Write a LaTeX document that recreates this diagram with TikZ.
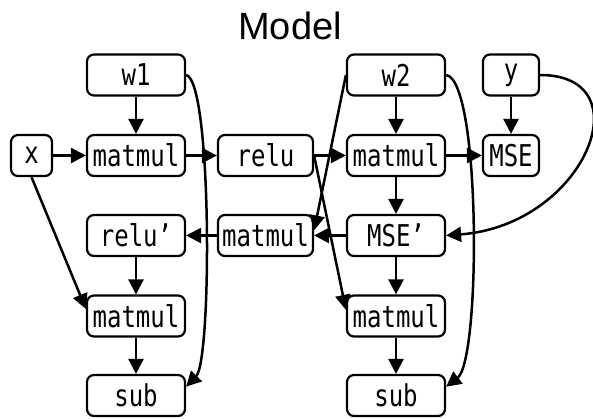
\documentclass[tikz,border=0pt]{standalone}
\usepackage{fontspec}
\setmainfont{Liberation Sans}
\newfontfamily\opfont[FakeStretch=0.8]{DejaVu Sans Mono}
\usetikzlibrary{arrows.meta}

\begin{document}
\begin{tikzpicture}[x=1pt,y=-1pt,
  op/.style={draw, line width=2.2pt, rounded corners=7pt, minimum width=98pt,
    minimum height=41pt, inner sep=0pt, font=\fontsize{30}{32}\opfont},
  narrow/.style={minimum width=41pt},
  mid/.style={minimum width=56pt},
  wide/.style={minimum width=95pt},
  arr/.style={line width=2.5pt, -{Triangle[length=15pt,width=15pt]}}
]
\useasboundingbox (0,0) rectangle (593,418);

\node (title) at (290,26) {\fontsize{38}{38}\selectfont Model};

% forward pass
\node[op] (w1) at (136,75) {w1};
\node[op,narrow] (x) at (31.5,155.5) {x};
\node[op] (m1) at (136,155.5) {matmul};
\node[op,wide] (relu) at (265.5,155.5) {relu};
\node[op] (w2) at (396,75) {w2};
\node[op,mid] (y) at (511,75) {y};
\node[op] (m2) at (396,155.5) {matmul};
\node[op,mid] (mse) at (511,155.5) {MSE};

% backward pass
\node[op] (relup) at (136,235.5) {relu’};
\node[op,wide] (m3) at (265.5,235.5) {matmul};
\node[op] (mse2) at (396,235.5) {MSE’};
\node[op] (m4) at (136,316) {matmul};
\node[op] (m5) at (396,316) {matmul};
\node[op] (s1) at (136,395.5) {sub};
\node[op] (s2) at (396,395.5) {sub};

% straight connections
\draw[arr] (w1) -- (m1);
\draw[arr] (x) -- (m1);
\draw[arr] (m1) -- (relu);
\draw[arr] (relu) -- (m2);
\draw[arr] (w2) -- (m2);
\draw[arr] (m2) -- (mse);
\draw[arr] (y) -- (mse);
\draw[arr] (m2) -- (mse2);
\draw[arr] (mse2) -- (m3);
\draw[arr] (m3) -- (relup);
\draw[arr] (relup) -- (m4);
\draw[arr] (mse2) -- (m5);
\draw[arr] (m4) -- (s1);
\draw[arr] (m5) -- (s2);

% diagonal connections
\draw[arr] (x.south) -- (m4.172);
\draw[arr] (w2.west) -- (m3.6);
\draw[arr] (relu.east) -- (m5.173);

% curved connections
\draw[arr] (w1.east) .. controls (212,80) and (212,360) .. (s1.10);
\draw[arr] (w2.east) .. controls (481,80) and (481,360) .. (s2.10);
\draw[arr] (y.east) .. controls (645,75) and (585,225) .. (mse2.east);
\end{tikzpicture}
\end{document}
